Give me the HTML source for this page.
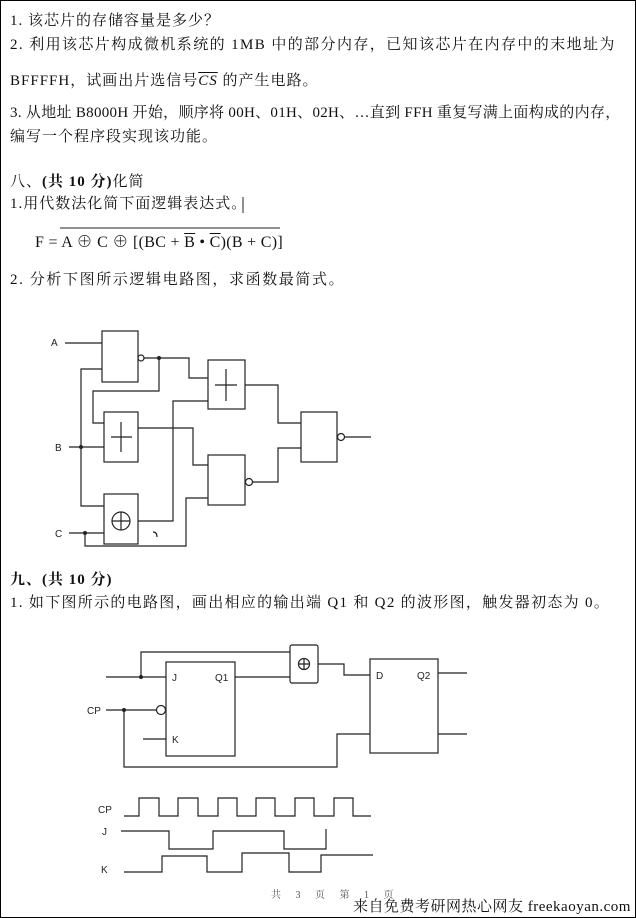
<!DOCTYPE html>
<html><head><meta charset="utf-8"><style>
body{margin:0;background:#fff}
#p{position:relative;width:634px;height:916px;border:1px solid #000;overflow:hidden;font-family:"Liberation Serif","Noto Serif CJK SC",serif;color:#111}
.t{position:absolute;white-space:nowrap;font-size:15px;line-height:17px;letter-spacing:1px}
svg{position:absolute;left:0;top:0}
</style></head><body><div id="p">
<div class="t" style="left:9px;top:12px">1. 该芯片的存储容量是多少？</div>
<div class="t" style="left:9px;top:36px;letter-spacing:1.4px">2. 利用该芯片构成微机系统的 1MB 中的部分内存，已知该芯片在内存中的末地址为</div>
<div class="t" style="left:9px;top:72px">BFFFFH，试画出片选信号<span style="text-decoration:overline;font-style:italic">CS</span> 的产生电路。</div>
<div class="t" style="left:9px;top:104px;letter-spacing:0.3px">3.  从地址 B8000H 开始，顺序将 00H、01H、02H、…直到 FFH 重复写满上面构成的内存，</div>
<div class="t" style="left:9px;top:128px">编写一个程序段实现该功能。</div>
<div class="t" style="left:9px;top:173px">八、<b>(共 10 分)</b>化简</div>
<div class="t" style="left:9px;top:195px">1.用代数法化简下面逻辑表达式。</div>
<div class="t" style="left:34px;top:233px;font-size:16px;letter-spacing:0.3px">F = A ⊕ C ⊕ [(BC + <span style="text-decoration:overline">B</span> • <span style="text-decoration:overline">C</span>)(B + C)]</div>
<div class="t" style="left:9px;top:271px;letter-spacing:1.6px">2. 分析下图所示逻辑电路图，求函数最简式。</div>
<div class="t" style="left:9px;top:571px"><b>九、(共 10 分)</b></div>
<div class="t" style="left:9px;top:594px;letter-spacing:1.3px">1. 如下图所示的电路图，画出相应的输出端 Q1 和 Q2 的波形图，触发器初态为 0。</div>
<div class="t" style="left:352px;top:898px;font-size:15px;letter-spacing:0.5px">来自免费考研网热心网友 freekaoyan.com</div>
<svg width="636" height="918" fill="none" stroke="#222" stroke-width="1.2" font-family="Liberation Sans,sans-serif" font-size="10">
<g fill="#222" stroke="none">
<text x="50" y="345">A</text><text x="54" y="450">B</text><text x="54" y="536">C</text>
<text x="171" y="680">J</text><text x="214" y="680">Q1</text><text x="171" y="742">K</text>
<text x="375" y="678">D</text><text x="416" y="678">Q2</text><text x="86" y="713">CP</text>
<text x="97" y="812">CP</text><text x="101" y="834">J</text><text x="100" y="872">K</text>
<circle cx="158" cy="357" r="2"/><circle cx="80" cy="446" r="2"/><circle cx="84" cy="532" r="2"/>
<circle cx="140" cy="676" r="2"/><circle cx="123" cy="709" r="2"/>
</g>
<rect x="101" y="330" width="36" height="51"/><circle cx="140" cy="357" r="3"/>
<rect x="207" y="359" width="37" height="49"/><path d="M225 368v32M214 384h22"/>
<rect x="103" y="411" width="34" height="50"/><path d="M120 421v30M110 436h21"/>
<rect x="207" y="454" width="37" height="50"/><circle cx="248" cy="481" r="3.5"/>
<rect x="300" y="411" width="36" height="50"/><circle cx="340" cy="436" r="3.5"/>
<rect x="103" y="493" width="34" height="50"/><circle cx="120" cy="520" r="9"/><path d="M120 511v18M111 520h18"/>
<path d="M64 342h37M143 357h45v20h19M158 357v33h-66v32h11M101 368h-21v137h23M68 446h35M137 427h55v37h15M244 384h33v38h23M252 481h25v-34h23M344 436h26M137 520h35v-120h35M68 532h35M84 532v13h101v-48h22"/>
<path d="M152 531q4 0 4 5"/>
<rect x="165" y="661" width="69" height="94"/><circle cx="160" cy="709" r="4.5"/>
<rect x="289" y="644" width="28" height="38" rx="2"/><circle cx="303" cy="663" r="5.5"/><path d="M303 657v12M297 663h12"/>
<rect x="369" y="658" width="68" height="94"/>
<path d="M105 676h60M140 676v-25h149M105 709h50M123 709v57h213v-33h33M142 738h23M234 676h55M317 663h26v11h26M437 672h29M437 733h29"/>
<path d="M123 815h15v-18h20v18h19v-18h20v18h20v-18h19v18h19v-18h19v18h20v-18h19v18h20v-18h19v18h18"/>
<path d="M120 830h48v18h44v-18h71v18h42v-20"/>
<path d="M123 871h38v-16h45v16h35v-19h47v19h32v-17h52"/>
<path d="M59 227h220" stroke-width="1"/>
<path d="M242 196v16" stroke-width="1"/>
</svg>
<div class="t" style="left:270px;top:886px;font-size:10px;color:#555;letter-spacing:6px">共 3 页 第 1 页</div>
</div></body></html>
